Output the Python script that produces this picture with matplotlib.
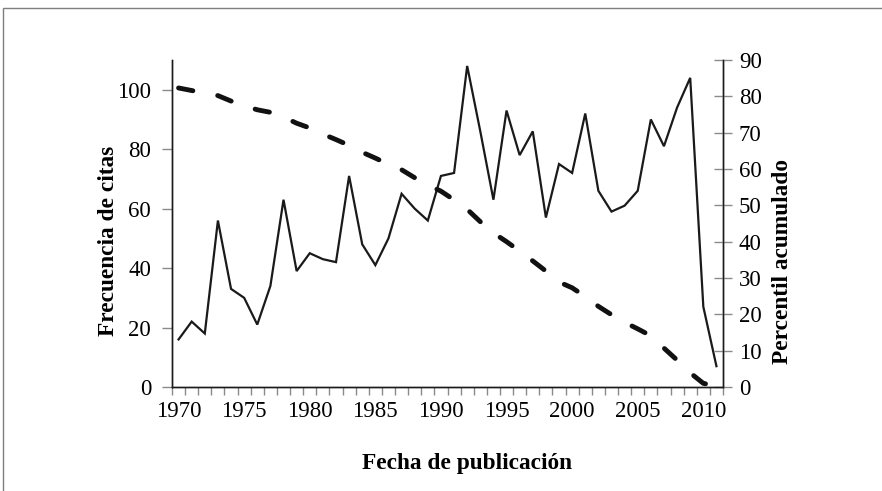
import matplotlib.pyplot as plt
from matplotlib.patches import Rectangle

# datos
anios = list(range(1970, 2012))
citas = [16, 22, 18, 56, 33, 30, 21, 34, 63, 39,
         45, 43, 42, 71, 48, 41, 50, 65, 60, 56,
         71, 72, 108, 86, 63, 93, 78, 86, 57, 75,
         72, 92, 66, 59, 61, 66, 90, 81, 94, 104,
         27, 7]
percentil = [82.3, 81.6, 80.9, 80.2, 78.7, 77.4, 76.3, 75.6, 74.3, 72.6,
             71.3, 69.6, 68.1, 66.5, 64.6, 63.0, 61.3, 59.8, 57.6, 55.6,
             53.9, 51.5, 48.9, 45.5, 42.4, 40.0, 37.4, 34.7, 31.9, 28.9,
             27.3, 24.9, 22.2, 19.9, 17.8, 16.0, 14.1, 10.7, 7.4, 3.9,
             1.0, 0.3]
etiquetas_x = list(range(1970, 2011, 5))

plt.rcParams['font.family'] = ['Liberation Serif', 'DejaVu Serif']

fig = plt.figure(figsize=(8.82, 4.91), dpi=100)

# marco exterior (solo se ven el borde superior e izquierdo)
fig.patches.append(Rectangle((3 / 882, -0.1), 1.2, 1 - 8 / 491 + 0.1,
                             transform=fig.transFigure, fill=False,
                             edgecolor='#7f7f7f', linewidth=1.0))

ax = fig.add_axes([172 / 882, 1 - 387 / 491, (723 - 172) / 882, (387 - 60) / 491])
ax2 = ax.twinx()

ax.plot(anios, citas, color='#1a1a1a', linewidth=1.6, solid_joinstyle='miter')
ax2.plot(anios, percentil, color='#111111', linewidth=3.5,
         dashes=(3.0, 5.2), dash_capstyle='round')

ax.set_xlim(1969.5, 2011.5)
ax.set_ylim(0, 110)
ax.set_yticks(range(0, 101, 20))
ax2.set_ylim(0, 90)
ax2.set_yticks(range(0, 91, 10))

ax.set_xticks(etiquetas_x)
ax.set_xticks([a - 0.5 for a in anios] + [2011.5], minor=True)
ax.tick_params(axis='x', which='major', length=0, pad=10, labelsize=16.5)
ax.tick_params(axis='x', which='minor', length=6, width=1, color='#8a8a8a', direction='out')
ax.tick_params(axis='y', length=7, width=1, color='#8a8a8a', direction='out',
               pad=8, labelsize=16.5)
ax2.tick_params(axis='y', length=13, width=1, color='#8a8a8a', direction='inout',
                pad=5, labelsize=16.5)

for a in (ax, ax2):
    a.spines['top'].set_visible(False)
    for s in ('left', 'right', 'bottom'):
        a.spines[s].set_linewidth(1.0)
        a.spines[s].set_color('#1a1a1a')

fig.text(108 / 882, 1 - 241 / 491, 'Frecuencia de citas', rotation=90,
         ha='center', va='center', fontsize=16.8, fontweight='bold')
fig.text(782 / 882, 1 - 261 / 491, 'Percentil acumulado', rotation=90,
         ha='center', va='center', fontsize=16.8, fontweight='bold')
fig.text(467 / 882, 1 - 463 / 491, 'Fecha de publicación',
         ha='center', va='center', fontsize=16.8, fontweight='bold')

fig.savefig('out.png', dpi=100)
